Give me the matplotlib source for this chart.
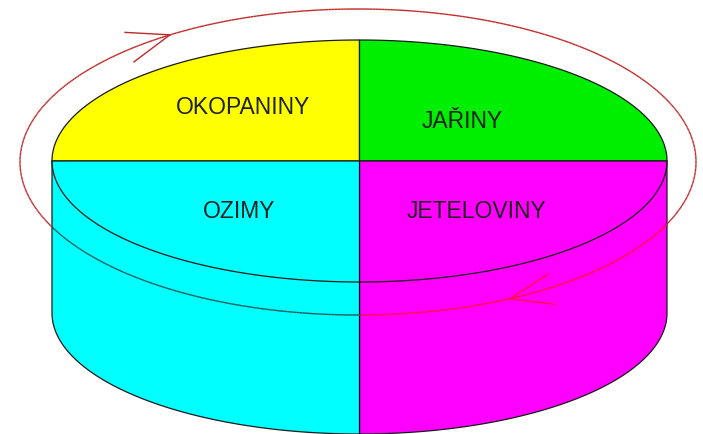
import numpy as np
import matplotlib.pyplot as plt
from matplotlib.patches import Polygon
from matplotlib.collections import LineCollection

# -------------- crop rotation (clockwise, starting top-left) --------------
crops = ['OKOPANINY', 'JAŘINY', 'JETELOVINY', 'OZIMY']
colors = ['#ffff00', '#00ee00', '#ff00ff', '#00ffff']
# -------------------------------------------------------------------------

# cylinder geometry in pixel coords (y grows downwards)
cx, a, b = 359.5, 307.5, 121
cy_top, cy_bot = 161, 313
# rotation loop around the cylinder
lx, ly, LA, LB = 358, 162, 338, 153

fig = plt.figure(figsize=(7.03, 4.34), dpi=100)
ax = fig.add_axes([0, 0, 1, 1])
ax.set_xlim(0, 703)
ax.set_ylim(434, 0)
ax.axis('off')


def arc(ycen, t0, t1, n=120):
    t = np.radians(np.linspace(t0, t1, n))
    return np.column_stack([cx + a * np.cos(t), ycen - b * np.sin(t)])


edge = '#1a1a1a'
# top face, back quarters
top_left = np.vstack([[[cx, cy_top]], arc(cy_top, 90, 180)])
top_right = np.vstack([[[cx, cy_top]], arc(cy_top, 90, 0)])
# front side halves
side_left = np.vstack([[[cx - a, cy_top], [cx, cy_top]], arc(cy_bot, 270, 180)])
side_right = np.vstack([[[cx, cy_top], [cx + a, cy_top]], arc(cy_bot, 360, 270)])

for pts, col in zip([top_left, top_right, side_right, side_left], colors):
    ax.add_patch(Polygon(pts, closed=True, facecolor=col, edgecolor=edge, lw=0.9))

# front rim of the top face
rim = arc(cy_top, 180, 360)
ax.plot(rim[:, 0], rim[:, 1], color=edge, lw=0.9)

# the loop, coloured by what it passes over
t = np.radians(np.linspace(0, 360, 721))
loop = np.column_stack([lx + LA * np.cos(t), ly - LB * np.sin(t)])
segs = np.stack([loop[:-1], loop[1:]], axis=1)
mid = segs.mean(axis=1)
seg_cols = []
for x, y in mid:
    if y > cy_top and cx - a < x < cx:
        seg_cols.append('#1e5a5a')
    elif y > cy_top and cx <= x < cx + a:
        seg_cols.append('#ff1040')
    else:
        seg_cols.append('#c02828')
ax.add_collection(LineCollection(segs, colors=seg_cols, lw=1.0))


# open arrowheads showing the direction of rotation
def arrow_head(x_tip, upper, col):
    t0 = np.arccos((x_tip - lx) / LA)
    if not upper:
        t0 = -t0
    tip = np.array([lx + LA * np.cos(t0), ly - LB * np.sin(t0)])
    fwd = np.array([LA * np.sin(t0), LB * np.cos(t0)])
    back = -fwd / np.linalg.norm(fwd)
    for ang in (-20, 20):
        r = np.radians(ang)
        rot = np.array([[np.cos(r), -np.sin(r)], [np.sin(r), np.cos(r)]])
        end = tip + 45 * rot @ back
        ax.plot([tip[0], end[0]], [tip[1], end[1]], color=col, lw=1.0)


arrow_head(170, True, '#c02828')
arrow_head(510, False, '#ff1040')

# labels
label_pos = [(243, 108), (462, 121), (476, 212), (239, 212)]
for name, (x, y) in zip(crops, label_pos):
    ax.text(x, y, name, ha='center', va='center', fontsize=16.5,
            family='Liberation Sans', color='#202020')

plt.savefig('out.png', dpi=100)
